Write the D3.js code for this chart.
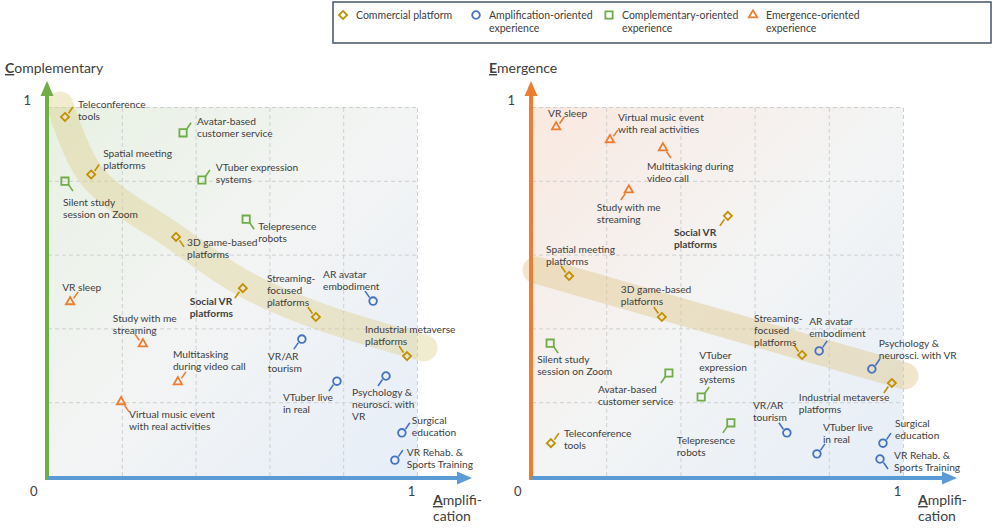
<!DOCTYPE html>
<html>
<head>
<meta charset="utf-8">
<script src="https://cdn.jsdelivr.net/npm/d3@7"></script>
<style>
  body { margin: 0; background: #fff; }
  svg text { font-family: Lato, "Open Sans", sans-serif; fill: #404040; }
</style>
</head>
<body>
<svg id="vis" width="997" height="528"></svg>
<script>
// categories of experience
const TYPES = ["Commercial platform", "Amplification-oriented experience",
    "Complementary-oriented experience", "Emergence-oriented experience"];
const TYPE_KEYS = ["commercial", "amplification", "complementary", "emergence"];

const ITEMS = [
    "Teleconference tools", "Spatial meeting platforms", "3D game-based platforms",
    "Social VR platforms", "Streaming-focused platforms", "Industrial metaverse platforms",
    "AR avatar embodiment", "VR/AR tourism", "VTuber live in real",
    "Psychology & neurosci. with VR", "Surgical education", "VR Rehab. & Sports Training",
    "Silent study session on Zoom", "Avatar-based customer service", "VTuber expression systems",
    "Telepresence robots", "VR sleep", "Study with me streaming",
    "Multitasking during video call", "Virtual music event with real activities"
];
const ITEM_TYPE = [0, 0, 0, 0, 0, 0, 1, 1, 1, 1, 1, 1, 2, 2, 2, 2, 3, 3, 3, 3];

// left chart: amplification vs complementary
const AMP_LEFT = [0.046, 0.117, 0.347, 0.528, 0.726, 0.973, 0.881, 0.688, 0.783, 0.916,
    0.959, 0.940, 0.046, 0.366, 0.417, 0.537, 0.060, 0.257, 0.352, 0.198];
const COMPLEMENTARY = [0.973, 0.817, 0.648, 0.509, 0.431, 0.325, 0.474, 0.371, 0.257, 0.271,
    0.117, 0.043, 0.799, 0.930, 0.802, 0.696, 0.472, 0.358, 0.255, 0.201];

// right chart: amplification vs emergence
const AMP_RIGHT = [0.051, 0.100, 0.350, 0.528, 0.728, 0.970, 0.774, 0.687, 0.768, 0.916,
    0.946, 0.938, 0.049, 0.369, 0.456, 0.536, 0.065, 0.261, 0.353, 0.210];
const EMERGENCE = [0.089, 0.542, 0.431, 0.705, 0.328, 0.252, 0.339, 0.117, 0.060, 0.290,
    0.089, 0.046, 0.360, 0.279, 0.214, 0.144, 0.946, 0.775, 0.889, 0.911];

// trend bands (commercial platforms)
const BAND_LEFT_X = [0.033, 0.119, 0.347, 0.528, 0.726, 1.019];
const BAND_LEFT_Y = [1.005, 0.813, 0.645, 0.523, 0.436, 0.347];
const BAND_RIGHT_X = [0.011, 1.005];
const BAND_RIGHT_Y = [0.558, 0.271];

const TICK_VALUES = [1];
const GRID_VALUES = [0.2, 0.4, 0.6, 0.8, 1];

// label text lines for each chart
const LABELS_LEFT = [
    ["Teleconference", "tools"], ["Spatial meeting", "platforms"], ["3D game-based", "platforms"],
    ["Social VR", "platforms"], ["Streaming-", "focused", "platforms"], ["Industrial metaverse", "platforms"],
    ["AR avatar", "embodiment"], ["VR/AR", "tourism"], ["VTuber live", "in real"],
    ["Psychology &", "neurosci. with", "VR"], ["Surgical", "education"], ["VR Rehab. &", "Sports Training"],
    ["Silent study", "session on Zoom"], ["Avatar-based", "customer service"], ["VTuber expression", "systems"],
    ["Telepresence", "robots"], ["VR sleep"], ["Study with me", "streaming"],
    ["Multitasking", "during video call"], ["Virtual music event", "with real activities"]
];
const LABELS_RIGHT = [
    ["Teleconference", "tools"], ["Spatial meeting", "platforms"], ["3D game-based", "platforms"],
    ["Social VR", "platforms"], ["Streaming-", "focused", "platforms"], ["Industrial metaverse", "platforms"],
    ["AR avatar", "embodiment"], ["VR/AR", "tourism"], ["VTuber live", "in real"],
    ["Psychology &", "neurosci. with VR"], ["Surgical", "education"], ["VR Rehab. &", "Sports Training"],
    ["Silent study", "session on Zoom"], ["Avatar-based", "customer service"], ["VTuber", "expression", "systems"],
    ["Telepresence", "robots"], ["VR sleep"], ["Study with me", "streaming"],
    ["Multitasking during", "video call"], ["Virtual music event", "with real activities"]
];

// annotation layout: leader direction and label offset (px) from the point
const LAYOUT_LEFT = [
    ["ur", 13, -9], ["ur", 12, -18], ["dr", 11, 9], ["dl", -53, 17], ["ul", -49, -35], ["ul", -42, -23],
    ["ul", -50, -23], ["dl", -34, 21], ["dl", -54, 20], ["dl", -34, 20], ["ur", 10, -9], ["ur", 12, -4],
    ["dr", -2, 25], ["ur", 14, -8], ["ur", 14, -9], ["dr", 12, 11],
    ["ur", -8, -11], ["ul", -30, -22], ["ur", -5, -24], ["dr", 8, 16]
];
const LAYOUT_RIGHT = [
    ["ur", 13, -6], ["ul", -23, -23], ["ul", -41, -24], ["dl", -54, 20], ["ul", -48, -33], ["dl", -93, 18],
    ["ur", -10, -26], ["ul", -34, -24], ["ur", 6, -23], ["ur", 7, -22], ["ur", 12, -16], ["dr", 14, 0],
    ["dr", -13, 20], ["dl", -71, 20], ["ur", -2, -38], ["dl", -54, 21],
    ["ur", -8, -10], ["dl", -32, 21], ["dr", -16, 22], ["ur", 8, -19]
];

const COLORS = {
    commercial: "#c09000",
    amplification: "#4472c4",
    complementary: "#70ad47",
    emergence: "#ed7d31"
};
const SYMBOLS = {
    commercial: d3.symbol(d3.symbolDiamond2, 42),
    amplification: d3.symbol(d3.symbolCircle, 46),
    complementary: d3.symbol(d3.symbolSquare2, 68),
    emergence: d3.symbol(d3.symbolTriangle2, 50)
};
const DIRS = { ur: [1, -1], ul: [-1, -1], dr: [1, 1], dl: [-1, 1] };

const Y_TOP = 107, Y_BOT = 476;
const LINE_H = 12;

const svg = d3.select("#vis");
const defs = svg.append("defs");

function addGradient(id, startColor) {
    let g = defs.append("linearGradient").attr("id", id)
        .attr("x1", 0).attr("y1", 0).attr("x2", 1).attr("y2", 1);
    g.append("stop").attr("offset", "0%").attr("stop-color", startColor);
    g.append("stop").attr("offset", "50%").attr("stop-color", "#f3f4f4");
    g.append("stop").attr("offset", "100%").attr("stop-color", "#e6eef8");
}
addGradient("bgC", "#e8f1e2");
addGradient("bgE", "#fae9e0");

function arrowHead(g, x, y, dir, color) {
    let p = dir === "up"
        ? [[x - 6.5, y + 15], [x, y], [x + 6.5, y + 15]]
        : [[x - 15, y - 6.5], [x, y], [x - 15, y + 6.5]];
    g.append("path").attr("d", d3.line()(p) + "Z").attr("fill", color);
}

function drawPanel(opt) {
    let x = d3.scaleLinear().domain([0, 1]).range([opt.x0, opt.x1]);
    let y = d3.scaleLinear().domain([0, 1]).range([Y_BOT, Y_TOP]);
    let g = svg.append("g");

    g.append("rect")
        .attr("x", x(0)).attr("y", y(1))
        .attr("width", x(1) - x(0)).attr("height", y(0) - y(1))
        .attr("fill", "url(#" + opt.bg + ")");

    // dashed grid
    let gx = g.append("g").attr("transform", "translate(0," + y(0) + ")")
        .call(d3.axisBottom(x).tickValues(GRID_VALUES).tickSize(-(y(0) - y(1))).tickFormat(""));
    let gy = g.append("g").attr("transform", "translate(" + x(0) + ",0)")
        .call(d3.axisLeft(y).tickValues(GRID_VALUES).tickSize(-(x(1) - x(0))).tickFormat(""));
    [gx, gy].forEach(function (a) {
        a.select(".domain").remove();
        a.selectAll("line").attr("stroke", "#cfcfcf").attr("stroke-dasharray", "4,3");
    });

    // trend band
    let band = opt.bandX.map(function (v, i) { return [x(v), y(opt.bandY[i])]; });
    g.append("path")
        .attr("d", d3.line().curve(d3.curveCatmullRom.alpha(0.5))(band))
        .attr("fill", "none")
        .attr("stroke", opt.bandColor)
        .attr("stroke-width", 27)
        .attr("stroke-linecap", "round");

    // axes
    g.append("line").attr("x1", x(0) - 1).attr("x2", x(0) - 1)
        .attr("y1", y(0) + 4).attr("y2", 92)
        .attr("stroke", opt.axisColor).attr("stroke-width", 4);
    arrowHead(g, x(0) - 1, 81, "up", opt.axisColor);
    g.append("line").attr("x1", x(0) - 1).attr("x2", opt.xTip - 8)
        .attr("y1", y(0) + 2).attr("y2", y(0) + 2)
        .attr("stroke", "#5b9bd5").attr("stroke-width", 4);
    arrowHead(g, opt.xTip, y(0) + 2, "right", "#5b9bd5");

    let ax = g.append("g").attr("transform", "translate(0," + (y(0) + 8) + ")")
        .call(d3.axisBottom(x).tickValues(TICK_VALUES).tickSize(0).tickFormat(d3.format("d")));
    ax.select(".domain").remove();
    ax.selectAll("text").attr("font-size", 13).attr("dx", -6).attr("fill", "#404040")
        .style("font-family", "Lato, sans-serif");
    let ay = g.append("g").attr("transform", "translate(" + (x(0) - 14) + ",0)")
        .call(d3.axisLeft(y).tickValues(TICK_VALUES).tickSize(0).tickFormat(d3.format("d")));
    ay.select(".domain").remove();
    ay.selectAll("text").attr("font-size", 13).attr("dy", "-0.2em").attr("fill", "#404040")
        .style("font-family", "Lato, sans-serif");
    g.append("text").attr("x", x(0) - 18).attr("y", y(0) + 20)
        .attr("font-size", 13).text("0");

    // axis titles
    let ty = g.append("text").attr("x", x(0) - 43).attr("y", 73).attr("font-size", 14);
    ty.append("tspan").attr("font-weight", "bold").attr("text-decoration", "underline")
        .text(opt.yTitle[0]);
    ty.append("tspan").text(opt.yTitle.slice(1));
    let tx = g.append("text").attr("x", opt.xTip - 39).attr("y", 505).attr("font-size", 14);
    tx.append("tspan").attr("font-weight", "bold").attr("text-decoration", "underline").text("A");
    tx.append("tspan").text("mplifi-");
    g.append("text").attr("x", opt.xTip - 39).attr("y", 521).attr("font-size", 14).text("cation");

    // points
    ITEMS.forEach(function (name, i) {
        let key = TYPE_KEYS[ITEM_TYPE[i]];
        let px = x(opt.xs[i]), py = y(opt.ys[i]);
        let lay = opt.layout[i];
        let d = DIRS[lay[0]];
        let pg = g.append("g").attr("transform", "translate(" + px + "," + py + ")");
        pg.append("line")
            .attr("x1", d[0] * 3.5).attr("y1", d[1] * 3.5)
            .attr("x2", d[0] * 8).attr("y2", d[1] * 10)
            .attr("stroke", COLORS[key]).attr("stroke-width", 1.6);
        pg.append("path").attr("d", SYMBOLS[key]())
            .attr("fill", "none").attr("stroke", COLORS[key]).attr("stroke-width", 1.8);
        let t = pg.append("text").attr("x", lay[1]).attr("y", lay[2])
            .attr("font-size", 10.2)
            .attr("font-weight", name === "Social VR platforms" ? "bold" : "normal");
        opt.labels[i].forEach(function (line, j) {
            t.append("tspan").attr("x", lay[1]).attr("dy", j === 0 ? 0 : LINE_H).text(line);
        });
    });
}

drawPanel({
    x0: 48, x1: 417, xTip: 472, bg: "bgC", axisColor: "#70ad47", yTitle: "Complementary",
    xs: AMP_LEFT, ys: COMPLEMENTARY, labels: LABELS_LEFT, layout: LAYOUT_LEFT,
    bandX: BAND_LEFT_X, bandY: BAND_LEFT_Y, bandColor: "rgba(222,208,140,0.42)"
});
drawPanel({
    x0: 532, x1: 903, xTip: 957, bg: "bgE", axisColor: "#ed7d31", yTitle: "Emergence",
    xs: AMP_RIGHT, ys: EMERGENCE, labels: LABELS_RIGHT, layout: LAYOUT_RIGHT,
    bandX: BAND_RIGHT_X, bandY: BAND_RIGHT_Y, bandColor: "rgba(225,200,140,0.45)"
});

// legend
let legend = svg.append("g");
legend.append("rect").attr("x", 333).attr("y", 2).attr("width", 658).attr("height", 41)
    .attr("fill", "#fff").attr("stroke", "#44546a").attr("stroke-width", 1.5);
const LEGEND_X = [343, 476, 609, 753];
TYPES.forEach(function (label, i) {
    let key = TYPE_KEYS[i];
    let lg = legend.append("g").attr("transform", "translate(" + LEGEND_X[i] + ",15)");
    lg.append("path").attr("d", SYMBOLS[key]())
        .attr("fill", "none").attr("stroke", COLORS[key]).attr("stroke-width", 1.8);
    let words = label.split(" ");
    let t = lg.append("text").attr("x", 13).attr("y", 4).attr("font-size", 10.5);
    if (i === 0) {
        t.text(label);
    } else {
        t.append("tspan").attr("x", 13).text(words[0]);
        t.append("tspan").attr("x", 13).attr("dy", 13).text(words[1]);
    }
});
</script>
</body>
</html>
